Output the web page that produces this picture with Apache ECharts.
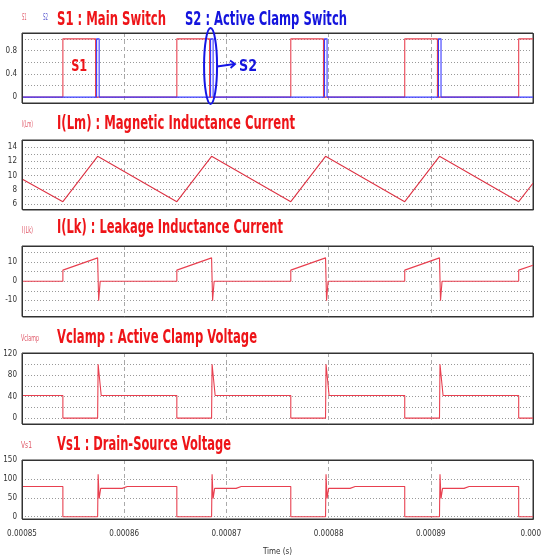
<!DOCTYPE html>
<html><head><meta charset="utf-8">
<script src="https://cdn.jsdelivr.net/npm/echarts@6/dist/echarts.min.js"></script>
<style>html,body{margin:0;padding:0;background:#fff}#c{width:541px;height:555px}</style>
</head><body><div id="c"></div>
<script>
// time in microseconds (axis labels shown in seconds)
const xTicks = [850, 860, 870, 880, 890, 900];
const xTickLabels = ['0.00085', '0.00086', '0.00087', '0.00088', '0.00089', '0.0009'];
const xGridTicks = [860, 870, 880, 890];

const s1 = [[850,0],[854.0,0],[854.0,1],[857.2,1],[857.2,0],[865.15,0],[865.15,1],[868.35,1],[868.35,0],
  [876.3,0],[876.3,1],[879.5,1],[879.5,0],[887.45,0],[887.45,1],[890.65,1],[890.65,0],[898.6,0],[898.6,1],[900,1]];
const s2 = [[850,0],[857.3,0],[857.3,1],[857.55,1],[857.55,0],[868.45,0],[868.45,1],[868.7,1],[868.7,0],
  [879.6,0],[879.6,1],[879.85,1],[879.85,0],[890.75,0],[890.75,1],[891.0,1],[891.0,0],[900,0]];
const iLm = [[850,9.5],[854.0,6.3],[857.4,12.7],[865.15,6.3],[868.55,12.7],[876.3,6.3],[879.7,12.7],
  [887.45,6.3],[890.85,12.7],[898.6,6.3],[900,8.9]];
const iLk = [[850,0],[854.0,0],[854.0,5.8],[857.4,12.2],[857.5,-10.2],[857.65,0],
  [865.15,0],[865.15,5.8],[868.55,12.2],[868.65,-10.2],[868.8,0],
  [876.3,0],[876.3,5.8],[879.7,12.2],[879.8,-10.2],[879.95,0],
  [887.45,0],[887.45,5.8],[890.85,12.2],[890.95,-10.2],[891.1,0],
  [898.6,0],[898.6,5.8],[900,8.4]];
const vClamp = [[850,42],[854.0,42],[854.0,0],[857.4,0],[857.45,100],[857.75,42],
  [865.15,42],[865.15,0],[868.55,0],[868.6,100],[868.9,42],
  [876.3,42],[876.3,0],[879.7,0],[879.75,100],[880.05,42],
  [887.45,42],[887.45,0],[890.85,0],[890.9,100],[891.2,42],
  [898.6,42],[898.6,0],[900,0]];
const vS1 = [[850,80],[854.0,80],[854.0,0],[857.4,0],[857.45,112],[857.55,48],[857.7,75],[859.8,75],[860.3,80],
  [865.15,80],[865.15,0],[868.55,0],[868.6,112],[868.7,48],[868.85,75],[870.95,75],[871.45,80],
  [876.3,80],[876.3,0],[879.7,0],[879.75,112],[879.85,48],[880.0,75],[882.1,75],[882.6,80],
  [887.45,80],[887.45,0],[890.85,0],[890.9,112],[891.0,48],[891.15,75],[893.25,75],[893.75,80],
  [898.6,80],[898.6,0],[900,0]];

const yTickSets = [[0,0.2,0.4,0.6,0.8,1.0],[6,7,8,9,10,11,12,13,14],[-15,-10,-5,0,5,10,15],[0,20,40,60,80,100,120],[0,50,100]];
const yLabelSets = [[0,0.4,0.8],[6,8,10,12,14],[-10,0,10],[0,40,80,120],[0,50,100,150]];
const yRanges = [[-0.1,1.1],[5.2,15],[-18.4,18.4],[-11,121],[-6,150]];

const gridBoxes = [[33,70],[140,69.5],[246,70.5],[353,71],[460,59]];
const FONT = '"DejaVu Sans Condensed","DejaVu Sans",sans-serif';
const RED = '#e84050';

const chart = echarts.init(document.getElementById('c'), null, {renderer:'canvas'});

const grids = gridBoxes.map(b => ({left:22, width:511, top:b[0], height:b[1], show:true,
  outerBoundsMode:'none', containLabel:false,
  borderColor:'#333', borderWidth:1, backgroundColor:'#fff'}));
const xAxes = gridBoxes.map((b,i) => ({type:'value', gridIndex:i, min:850, max:900, interval:10,
  axisLine:{show:false}, axisTick:{show:false, customValues:xGridTicks},
  splitLine:{show:true, lineStyle:{color:'#aaa', type:[4,3], width:1}},
  axisLabel:{show:i===4, customValues:xTicks, fontSize:8, color:'#333', fontFamily:FONT, margin:11,
    hideOverlap:false,
    formatter: v => { const k = xTicks.indexOf(Math.round(v)); return k>=0 ? xTickLabels[k] : ''; }},
  name: i===4 ? 'Time (s)' : '', nameLocation:'middle', nameGap:29,
  nameTextStyle:{fontSize:8, color:'#333', fontFamily:FONT}}));
const yAxes = gridBoxes.map((b,i) => ({type:'value', gridIndex:i, min:yRanges[i][0], max:yRanges[i][1],
  axisLine:{show:false}, axisTick:{show:false, customValues:yTickSets[i]},
  splitLine:{show:true, lineStyle:{color:'#999', type:[1,2], width:1}},
  axisLabel:{customValues:yLabelSets[i], fontSize:8, color:'#333', fontFamily:FONT, margin:5}}));

function mk(data, i, color){
  return {type:'line', xAxisIndex:i, yAxisIndex:i, data, symbol:'none', showSymbol:false,
    lineStyle:{width:1.1, color}, itemStyle:{color}, animation:false, silent:true};
}
const series = [mk(s1,0,RED), mk(s2,0,'#3a3aff'), mk(iLm,1,'#dd3344'), mk(iLk,2,RED), mk(vClamp,3,RED), mk(vS1,4,RED)];

chart.setOption({animation:false, grid:grids, xAxis:xAxes, yAxis:yAxes, series});

const ctx = document.createElement('canvas').getContext('2d');
function textEl(text, x, y, size, weight, color, targetW){
  const font = weight + ' ' + size + 'px ' + FONT;
  ctx.font = font;
  const w = ctx.measureText(text).width;
  const sx = targetW ? targetW / w : 1;
  return {type:'text', x, y, scaleX:sx, z:100,
    style:{text, fill:color, fontSize:size, fontWeight:weight, fontFamily:FONT, align:'left', verticalAlign:'middle'}};
}
const TR = '#ee1418', TB = '#1414dd';
const graphics = [
  textEl('S1', 22, 18, 8, 'normal', '#e05868', 4.5),
  textEl('S2', 43, 18, 8, 'normal', '#5a5ad0', 5),
  textEl('S1 : Main Switch', 57, 20, 19, 'bold', TR, 109),
  textEl('S2 : Active Clamp Switch', 185, 20, 19, 'bold', TB, 162),
  textEl('I(Lm)', 22, 125, 8, 'normal', '#e05868', 11),
  textEl('I(Lm) : Magnetic Inductance Current', 57, 124, 19, 'bold', TR, 238),
  textEl('I(Lk)', 22, 231, 8, 'normal', '#e05868', 11),
  textEl('I(Lk) : Leakage Inductance Current', 57, 228.5, 19, 'bold', TR, 226),
  textEl('Vclamp', 21, 339, 8, 'normal', '#e05868', 18),
  textEl('Vclamp : Active Clamp Voltage', 57, 338.5, 19, 'bold', TR, 200),
  textEl('Vs1', 21, 446, 8, 'normal', '#e05868', 11),
  textEl('Vs1 : Drain-Source Voltage', 57, 445, 19, 'bold', TR, 174)
];
// solid frame on top of each plot area
gridBoxes.forEach(b => graphics.push({type:'rect', z:50, silent:true,
  shape:{x:22.5, y:b[0]+0.5, width:511, height:b[1]}, style:{fill:'none', stroke:'#333', lineWidth:1}}));
// annotations anchored to data times
const pS1 = chart.convertToPixel({xAxisIndex:0, yAxisIndex:0}, [(s1[2][0]+s1[3][0])/2, 0.5]);
const pS2 = chart.convertToPixel({xAxisIndex:0, yAxisIndex:0}, [s2[6][0], 0.5]);
graphics.push(textEl('S1', pS1[0]-8, 67.5, 15, 'bold', TR, 16));
graphics.push({type:'ellipse', z:100, shape:{cx:pS2[0], cy:66, rx:6.5, ry:38}, style:{fill:'none', stroke:'#1515e6', lineWidth:2}});
graphics.push({type:'line', z:100, shape:{x1:pS2[0]+6.5, y1:66.5, x2:pS2[0]+24, y2:64}, style:{stroke:'#1515e6', lineWidth:1.8}});
graphics.push({type:'polyline', z:100, shape:{points:[[pS2[0]+19.5,60.5],[pS2[0]+24.5,64],[pS2[0]+20,68]]}, style:{fill:'none', stroke:'#1515e6', lineWidth:1.8}});
graphics.push(textEl('S2', pS2[0]+28.5, 67, 15, 'bold', TB, 18));
chart.setOption({graphic:graphics});
</script></body></html>
